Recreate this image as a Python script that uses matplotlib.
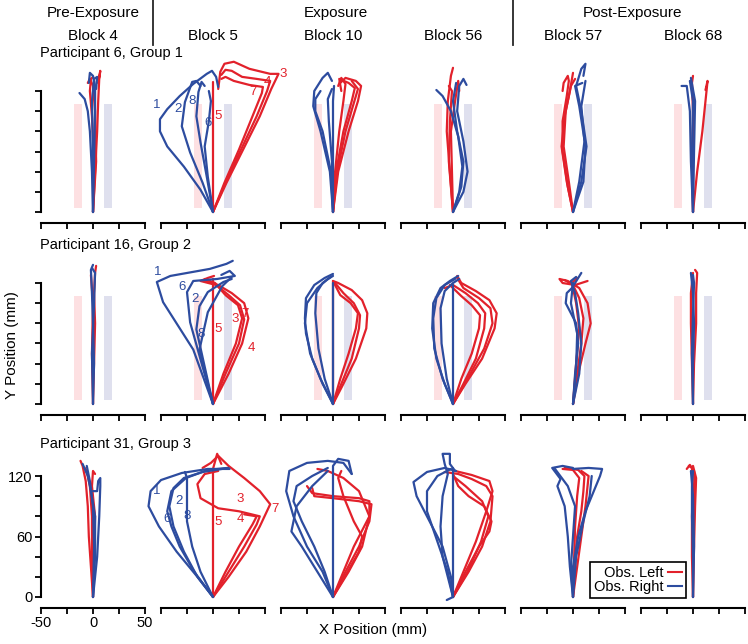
import numpy as np
import matplotlib
matplotlib.use('Agg')
import matplotlib.pyplot as plt
from matplotlib.lines import Line2D
from matplotlib.patches import Rectangle

plt.rcParams['font.family'] = ['Liberation Sans', 'DejaVu Sans']

RED = '#e2212b'
BLUE = '#2d4c9f'

# column / row headings
PHASES = ['Pre-Exposure', 'Exposure', 'Post-Exposure']
BLOCKS = ['Block 4', 'Block 5', 'Block 10', 'Block 56', 'Block 57', 'Block 68']
ROWS = ['Participant 6, Group 1', 'Participant 16, Group 2', 'Participant 31, Group 3']

# hand trajectories (x mm, y mm)
# ---- participant 6 ----
P6_B4_RED = [
    [(0, 0), (2, 40), (4, 80), (5, 110), (6, 132), (7, 140), (5, 128)],
    [(0, 0), (1, 50), (-1, 95), (-3, 120), (-2, 132), (0, 134)],
    [(0, 0), (3, 50), (2, 100), (0, 125), (-3, 132), (-5, 128)],
]
P6_B4_BLUE = [
    [(0, 0), (-1, 40), (-3, 80), (-5, 100), (-8, 112), (-13, 118)],
    [(0, 0), (1, 50), (2, 100), (2, 125), (0, 135), (-3, 138), (-4, 128)],
    [(0, 0), (0, 60), (-1, 110), (1, 132), (4, 134), (3, 122)],
]
P6_B5_RED = [
    [(0, 0), (0, 129)],
    [(0, 0), (13, 29), (29, 62), (45, 95), (56, 122), (63, 137), (55, 137), (35, 142),
     (20, 149), (11, 147), (7, 139), (6, 130), (5, 122)],
    [(0, 0), (12, 29), (27, 62), (42, 95), (52, 120), (55, 130), (42, 132), (28, 134),
     (18, 140), (12, 141), (8, 136)],
    [(0, 0), (11, 29), (25, 62), (38, 95), (47, 118), (48, 124), (35, 126), (20, 130),
     (12, 134), (8, 132)],
]
P6_B5_BLUE = [
    [(0, 0), (-12, 22), (-28, 45), (-44, 65), (-51, 80), (-51, 92), (-44, 102), (-32, 115),
     (-19, 127), (-6, 137), (-1, 140), (3, 134), (5, 124)],
    [(0, 0), (-10, 29), (-22, 59), (-30, 85), (-27, 109), (-20, 129), (-16, 130), (-12, 125)],
    [(0, 0), (-6, 35), (-12, 69), (-16, 95), (-14, 119), (-11, 129), (-8, 125)],
    [(0, 0), (-5, 35), (-8, 65), (-4, 90), (-2, 110), (-4, 120)],
]
P6_B10_RED = [
    [(0, 0), (5, 40), (15, 80), (24, 110), (27, 125), (22, 130), (12, 133), (7, 128)],
    [(0, 0), (3, 40), (10, 80), (18, 110), (21, 123), (15, 128), (6, 132), (8, 120)],
    [(0, 0), (2, 40), (6, 80), (10, 110), (12, 127), (8, 133), (5, 125)],
    [(0, 0), (4, 40), (12, 80), (20, 108), (24, 122), (18, 130)],
]
P6_B10_BLUE = [
    [(0, 0), (-3, 40), (-12, 80), (-19, 105), (-18, 120), (-10, 133), (-5, 138), (-1, 130)],
    [(0, 0), (-2, 40), (-10, 80), (-17, 100), (-17, 112), (-12, 120)],
    [(0, 0), (-1, 50), (-4, 90), (-5, 112), (-1, 122)],
    [(0, 0), (0, 60), (0, 110), (1, 125)],
]
P6_B56_RED = [
    [(0, 0), (-3, 40), (-6, 80), (-5, 110), (-2, 135), (0, 143)],
    [(0, 0), (-1, 40), (-2, 80), (2, 110), (5, 130), (6, 120)],
    [(0, 0), (-4, 50), (-3, 90), (-1, 120), (-4, 125)],
]
P6_B56_BLUE = [
    [(0, 0), (10, 20), (14, 40), (10, 70), (4, 100), (6, 125), (10, 132), (13, 126)],
    [(0, 0), (6, 20), (9, 45), (5, 75), (-2, 100), (-10, 115), (-16, 121)],
    [(0, 0), (8, 25), (10, 50), (4, 80), (0, 110), (3, 128)],
]
P6_B57_RED = [
    [(0, 0), (-5, 25), (-10, 60), (-10, 90), (-6, 115), (-4, 130), (-5, 135), (-9, 128), (-10, 120)],
    [(0, 0), (-6, 30), (-11, 65), (-8, 95), (-3, 120), (0, 138)],
    [(0, 0), (-4, 30), (-9, 65), (-7, 100), (-2, 125), (2, 132)],
]
P6_B57_BLUE = [
    [(0, 0), (8, 30), (13, 65), (8, 100), (3, 125), (8, 142), (12, 147), (10, 135)],
    [(0, 0), (10, 30), (12, 65), (6, 105), (2, 125), (9, 128)],
    [(0, 0), (6, 30), (11, 70), (8, 105), (12, 130)],
]
P6_B68_RED = [
    [(0, 0), (4, 40), (9, 80), (12, 110), (14, 130), (12, 121)],
    [(0, 0), (0, 50), (0, 100), (-1, 128), (0, 135)],
    [(0, 0), (-1, 60), (1, 110), (-2, 130)],
]
P6_B68_BLUE = [
    [(0, 0), (-2, 50), (-3, 100), (-6, 125), (-11, 125)],
    [(0, 0), (1, 60), (2, 110), (-2, 133)],
    [(0, 0), (-1, 50), (0, 110), (-3, 130)],
]
# ---- participant 16 ----
P16_B4_RED = [
    [(0, 0), (1, 40), (2, 80), (1, 110), (2, 130), (3, 137)],
    [(0, 0), (-1, 50), (0, 100), (-2, 128)],
]
P16_B4_BLUE = [
    [(0, 0), (1, 40), (0, 80), (-1, 110), (-2, 133), (0, 138)],
    [(0, 0), (-1, 50), (1, 100), (2, 130), (-1, 135)],
]
P16_B5_RED = [
    [(0, 0), (0, 124)],
    [(0, 0), (12, 30), (25, 60), (30, 84), (26, 98), (15, 108), (3, 118), (-12, 122), (-5, 125), (1, 127)],
    [(0, 0), (15, 30), (28, 60), (34, 85), (30, 100), (18, 110), (5, 118), (-10, 123)],
    [(0, 0), (10, 30), (22, 60), (28, 85), (24, 98), (12, 108), (2, 120), (-8, 124)],
]
P16_B5_BLUE = [
    [(0, 0), (-19, 54), (-48, 101), (-54, 121), (-41, 127), (-3, 134), (13, 139), (19, 142)],
    [(0, 0), (-22, 81), (-25, 111), (-19, 122), (4, 124), (21, 127), (16, 132), (8, 128)],
    [(0, 0), (-16, 74), (-13, 97), (-5, 111), (10, 121), (18, 124)],
    [(0, 0), (-13, 54), (-5, 91), (9, 117), (18, 126)],
]
P16_B10_RED = [
    [(0, 0), (10, 20), (22, 45), (32, 75), (33, 90), (28, 103), (18, 113), (5, 120), (0, 122)],
    [(0, 0), (8, 20), (18, 45), (25, 75), (26, 88), (20, 100), (10, 110), (2, 120)],
    [(0, 0), (7, 25), (15, 50), (22, 75), (24, 90), (17, 100), (7, 108), (0, 122)],
    [(0, 0), (0, 60), (0, 122)],
]
P16_B10_BLUE = [
    [(0, 0), (-10, 20), (-20, 45), (-26, 70), (-27, 85), (-26, 105), (-18, 118), (-8, 125), (0, 129)],
    [(0, 0), (-12, 25), (-22, 50), (-27, 80), (-25, 100), (-15, 115), (-5, 124), (0, 127)],
    [(0, 0), (-8, 25), (-14, 55), (-17, 90), (-16, 110), (-10, 120), (-2, 126)],
    [(0, 0), (0, 60), (0, 120)],
]
P16_B56_RED = [
    [(0, 0), (12, 20), (28, 45), (40, 75), (42, 90), (35, 103), (22, 112), (8, 120), (4, 127)],
    [(0, 0), (10, 20), (22, 45), (30, 75), (31, 90), (24, 100), (12, 110), (0, 118), (-8, 115)],
    [(0, 0), (8, 25), (18, 50), (25, 75), (26, 88), (18, 98), (8, 107), (-3, 118)],
    [(0, 0), (14, 25), (30, 55), (38, 80), (36, 95), (25, 105), (10, 115), (4, 125)],
]
P16_B56_BLUE = [
    [(0, 0), (-8, 20), (-16, 45), (-20, 75), (-19, 100), (-12, 115), (-3, 122), (5, 127)],
    [(0, 0), (-10, 25), (-18, 55), (-19, 85), (-16, 105), (-8, 118), (2, 124)],
    [(0, 0), (-6, 25), (-11, 60), (-12, 95), (-8, 112), (0, 120), (6, 124)],
    [(0, 0), (0, 60), (0, 118)],
]
P16_B57_RED = [
    [(0, 0), (5, 30), (12, 60), (17, 80), (14, 100), (6, 115), (-5, 122), (-13, 124), (-10, 120),
     (2, 118), (14, 122)],
    [(0, 0), (4, 30), (8, 60), (10, 85), (6, 105), (0, 118), (-8, 123)],
    [(0, 0), (3, 40), (6, 75), (3, 100), (-1, 120), (4, 125)],
]
P16_B57_BLUE = [
    [(0, 0), (2, 30), (5, 60), (3, 80), (-7, 100), (-6, 110), (-1, 115), (8, 130)],
    [(0, 0), (6, 30), (8, 60), (5, 90), (2, 110), (-2, 122), (3, 126)],
    [(0, 0), (3, 35), (4, 70), (-2, 100), (0, 120)],
]
P16_B68_RED = [
    [(0, 0), (1, 40), (3, 80), (3, 110), (4, 130), (2, 133)],
    [(0, 0), (-1, 40), (-2, 80), (-2, 110), (0, 130)],
]
P16_B68_BLUE = [
    [(0, 0), (0, 40), (1, 80), (0, 110), (-2, 130)],
    [(0, 0), (-1, 50), (0, 90), (1, 120), (0, 128)],
]
# ---- participant 31 ----
P31_B4_RED = [
    [(0, 0), (-2, 30), (-4, 60), (-5, 90), (-7, 115), (-10, 130), (-12, 135)],
    [(0, 0), (-1, 40), (-1, 80), (-3, 110), (-6, 125), (-8, 128)],
    [(0, 0), (1, 40), (2, 80), (-1, 110), (0, 125), (2, 122)],
]
P31_B4_BLUE = [
    [(0, 0), (4, 40), (6, 80), (7, 110), (7, 118), (5, 115), (4, 105), (0, 105)],
    [(0, 0), (2, 40), (2, 80), (-2, 105), (-5, 120), (-10, 132)],
    [(0, 0), (1, 50), (0, 90), (-3, 115), (-6, 130)],
]
P31_B5_RED = [
    [(0, 0), (0, 127), (4, 142), (8, 132)],
    [(0, 0), (15, 25), (30, 50), (42, 72), (45, 80), (25, 85), (5, 88), (-12, 98), (-15, 112),
     (-8, 122), (5, 125)],
    [(0, 0), (15, 20), (32, 45), (45, 70), (55, 92), (45, 105), (30, 118), (15, 130), (5, 140),
     (-2, 133), (-10, 128)],
    [(0, 0), (12, 25), (25, 50), (38, 72), (42, 80), (30, 82)],
]
P31_B5_BLUE = [
    [(0, 0), (-15, 20), (-35, 45), (-52, 70), (-62, 90), (-60, 105), (-50, 116), (-30, 123),
     (-5, 127), (16, 127)],
    [(0, 0), (-15, 20), (-28, 45), (-38, 70), (-42, 90), (-38, 108), (-28, 118), (-10, 124), (15, 128)],
    [(0, 0), (-18, 25), (-32, 50), (-40, 70), (-44, 85), (-40, 105), (-26, 118), (-5, 126), (14, 128)],
    [(0, 0), (-12, 25), (-20, 50), (-25, 75), (-25, 100), (-25, 118), (-27, 124)],
]
P31_B10_RED = [
    [(0, 0), (15, 25), (28, 50), (35, 80), (35, 95), (25, 98), (0, 100), (-20, 103), (-25, 110)],
    [(0, 0), (12, 25), (25, 50), (35, 75), (37, 92), (25, 95), (0, 98), (-18, 100), (-20, 108)],
    [(0, 0), (10, 25), (20, 50), (30, 70), (35, 80), (25, 105), (10, 118), (-5, 125), (-15, 127)],
    [(0, 0), (14, 25), (25, 45), (28, 60), (20, 75), (10, 100), (5, 118), (8, 125)],
]
P31_B10_BLUE = [
    [(0, 0), (-10, 25), (-25, 50), (-38, 80), (-45, 105), (-42, 125), (-25, 133), (-5, 135),
     (10, 133), (18, 122)],
    [(0, 0), (-8, 25), (-18, 50), (-30, 75), (-38, 95), (-35, 110), (-20, 120), (-5, 128)],
    [(0, 0), (-15, 25), (-30, 50), (-40, 65), (-35, 90), (-20, 110), (-5, 125)],
    [(0, 0), (0, 60), (0, 130), (5, 137), (15, 135), (18, 122)],
]
P31_B56_RED = [
    [(0, 0), (15, 25), (28, 50), (36, 75), (38, 100), (32, 110), (18, 117), (5, 122), (-8, 124)],
    [(0, 0), (12, 25), (25, 50), (35, 65), (37, 75), (30, 90), (15, 100), (5, 110), (0, 122)],
    [(0, 0), (10, 25), (22, 55), (32, 85), (38, 105), (35, 115), (18, 121), (2, 125)],
    [(0, 0), (14, 25), (27, 55), (34, 80), (28, 95), (12, 110), (0, 120)],
]
P31_B56_BLUE = [
    [(0, 0), (-2, 20), (-10, 50), (-25, 80), (-35, 100), (-38, 114), (-25, 124), (-8, 128), (3, 125)],
    [(0, 0), (-5, 25), (-15, 55), (-25, 85), (-25, 105), (-15, 120), (-2, 127)],
    [(-6, -3), (0, 0), (-10, 40), (-12, 70), (-10, 100), (-5, 122), (-8, 132), (-10, 142),
     (-3, 142), (-3, 132), (2, 125)],
    [(0, 0), (0, 60), (0, 128)],
]
P31_B57_RED = [
    [(0, 0), (2, 30), (4, 60), (8, 85), (10, 105), (11, 120), (5, 126), (-8, 128)],
    [(0, 0), (1, 35), (2, 70), (4, 100), (6, 118), (0, 126), (-10, 127)],
    [(0, 0), (4, 30), (8, 60), (12, 90), (14, 110), (15, 120), (8, 125)],
]
P31_B57_BLUE = [
    [(0, 0), (-3, 30), (-5, 60), (-8, 90), (-15, 110), (-12, 117), (-20, 128), (-10, 130), (0, 128)],
    [(0, 0), (0, 30), (5, 60), (12, 85), (20, 105), (26, 120), (28, 127), (15, 128), (0, 127)],
    [(0, 0), (-2, 30), (0, 60), (2, 90), (-5, 110), (-18, 128)],
    [(0, 0), (3, 40), (10, 75), (16, 100), (18, 120)],
]
P31_B68_RED = [
    [(0, 0), (0, 40), (1, 80), (2, 110), (1, 125), (-3, 131), (-6, 127)],
    [(0, 0), (-1, 40), (-1, 80), (0, 110), (-1, 128), (-4, 130)],
    [(0, 0), (1, 50), (2, 90), (3, 118), (0, 130)],
]
P31_B68_BLUE = [
    [(0, 0), (0, 40), (-1, 80), (-1, 110), (0, 125)],
    [(0, 0), (1, 50), (0, 100), (-2, 125)],
]

# trial numbers written next to the Block 5 traces: (text, x, y)
P6_B5_RED_NUM = [('5', 5, 95), ('3', 67, 137), ('4', 52, 129), ('7', 38, 119)]
P6_B5_BLUE_NUM = [('1', -54, 106), ('2', -34, 102), ('8', -20, 110), ('6', -5, 88)]
P16_B5_RED_NUM = [('5', 5, 74), ('3', 21, 84), ('7', 31, 89), ('4', 37, 56)]
P16_B5_BLUE_NUM = [('1', -53, 131), ('6', -30, 116), ('2', -17, 104), ('8', -11, 69)]
P31_B5_RED_NUM = [('5', 5, 74), ('3', 26, 97), ('4', 26, 77), ('7', 60, 87)]
P31_B5_BLUE_NUM = [('1', -54, 105), ('2', -33, 95), ('6', -44, 77), ('8', -25, 80)]

# target zones shown in the first two rows
ZONE_LEFT = (-18.5, -10.5)
ZONE_RIGHT = (10.5, 18.5)
ZONE_Y = (4, 107)

X_TICKS = [-50, -25, 0, 25, 50]
Y_TICKS = [0, 20, 40, 60, 80, 100, 120]
Y_TICKLABELS = ['0', '', '', '60', '', '', '120']

PANELS = [
    [(P6_B4_RED, P6_B4_BLUE), (P6_B5_RED, P6_B5_BLUE), (P6_B10_RED, P6_B10_BLUE),
     (P6_B56_RED, P6_B56_BLUE), (P6_B57_RED, P6_B57_BLUE), (P6_B68_RED, P6_B68_BLUE)],
    [(P16_B4_RED, P16_B4_BLUE), (P16_B5_RED, P16_B5_BLUE), (P16_B10_RED, P16_B10_BLUE),
     (P16_B56_RED, P16_B56_BLUE), (P16_B57_RED, P16_B57_BLUE), (P16_B68_RED, P16_B68_BLUE)],
    [(P31_B4_RED, P31_B4_BLUE), (P31_B5_RED, P31_B5_BLUE), (P31_B10_RED, P31_B10_BLUE),
     (P31_B56_RED, P31_B56_BLUE), (P31_B57_RED, P31_B57_BLUE), (P31_B68_RED, P31_B68_BLUE)],
]
NUMBERS = [(P6_B5_RED_NUM, P6_B5_BLUE_NUM), (P16_B5_RED_NUM, P16_B5_BLUE_NUM),
           (P31_B5_RED_NUM, P31_B5_BLUE_NUM)]

W, H = 748, 644
fig = plt.figure(figsize=(W / 100, H / 100), dpi=100)


def fx(px):
    return px / W


def fy(py):
    return 1 - py / H


baselines = [212, 404, 597]
k = 121 / 120.0
ymin, ymax = -11, 150

for r in range(3):
    for c in range(6):
        left = 41 + 120 * c
        bot = baselines[r] - ymin * k
        ax = fig.add_axes([fx(left), fy(bot), 104 / W, (ymax - ymin) * k / H])
        ax.set_xlim(-50, 50)
        ax.set_ylim(ymin, ymax)
        ax.patch.set_alpha(0)
        for s in ['top', 'right']:
            ax.spines[s].set_visible(False)
        ax.spines['bottom'].set_bounds(-50, 50)
        ax.spines['bottom'].set_linewidth(1.5)
        ax.set_xticks(X_TICKS)
        ax.tick_params(axis='x', direction='out', length=4, width=1.3, labelsize=10.5, pad=2)
        if r < 2:
            ax.set_xticklabels([])
        else:
            ax.set_xticklabels(['-50', '', '0', '', '50'] if c == 0 else [])
        if c == 0:
            ax.spines['left'].set_bounds(0, 120)
            ax.spines['left'].set_linewidth(1.5)
            ax.set_yticks(Y_TICKS)
            ax.tick_params(axis='y', direction='out', length=4, width=1.3, labelsize=10.5, pad=2)
            ax.set_yticklabels(Y_TICKLABELS if r == 2 else [])
        else:
            ax.spines['left'].set_visible(False)
            ax.set_yticks([])

        if r < 2:
            ax.add_patch(Rectangle((ZONE_LEFT[0], ZONE_Y[0]), ZONE_LEFT[1] - ZONE_LEFT[0],
                                   ZONE_Y[1] - ZONE_Y[0], color='#fde0e2', lw=0, zorder=0))
            ax.add_patch(Rectangle((ZONE_RIGHT[0], ZONE_Y[0]), ZONE_RIGHT[1] - ZONE_RIGHT[0],
                                   ZONE_Y[1] - ZONE_Y[0], color='#dfe0ee', lw=0, zorder=0))

        reds, blues = PANELS[r][c]
        for tr in reds:
            xy = np.array(tr)
            ax.plot(xy[:, 0], xy[:, 1], color=RED, lw=1.6, clip_on=False,
                    solid_joinstyle='round', solid_capstyle='round', zorder=3)
        for tr in blues:
            xy = np.array(tr)
            ax.plot(xy[:, 0], xy[:, 1], color=BLUE, lw=1.6, clip_on=False,
                    solid_joinstyle='round', solid_capstyle='round', zorder=3)

        if c == 1:
            for lab, x, y in NUMBERS[r][0]:
                ax.text(x, y, lab, color=RED, fontsize=9.5, ha='center', va='center', zorder=5)
            for lab, x, y in NUMBERS[r][1]:
                ax.text(x, y, lab, color=BLUE, fontsize=9.5, ha='center', va='center', zorder=5)

# headers
centers = [93 + 120 * c for c in range(6)]
fig.text(fx(centers[0]), fy(13), PHASES[0], ha='center', va='center', fontsize=11)
fig.text(fx(centers[2] + 3), fy(13), PHASES[1], ha='center', va='center', fontsize=11)
fig.text(fx((centers[4] + centers[5]) / 2), fy(13), PHASES[2], ha='center', va='center', fontsize=11)
for c in range(6):
    fig.text(fx(centers[c]), fy(36), BLOCKS[c], ha='center', va='center', fontsize=11)
for xline in [153, 513]:
    fig.add_artist(Line2D([fx(xline)] * 2, [fy(0), fy(45)], color='0.15', lw=1.3))

for r, ypx in enumerate([53, 245, 444]):
    fig.text(fx(40), fy(ypx), ROWS[r], ha='left', va='center', fontsize=10.5)

fig.text(fx(12), fy(345), 'Y Position (mm)', rotation=90, ha='center', va='center', fontsize=11)
fig.text(fx(373), fy(630), 'X Position (mm)', ha='center', va='center', fontsize=11)

handles = [Line2D([], [], color=RED, lw=1.5), Line2D([], [], color=BLUE, lw=1.5)]
leg = fig.legend(handles, ['Obs. Left', 'Obs. Right'], loc='lower right',
                 bbox_to_anchor=(fx(686), fy(598)), markerfirst=False, fancybox=False,
                 edgecolor='black', fontsize=10.5, handlelength=1.0, handletextpad=0.3,
                 borderpad=0.25, labelspacing=0.05, borderaxespad=0)
leg.get_frame().set_linewidth(1.2)
leg.get_frame().set_alpha(1)

fig.savefig('out.png', dpi=100)
